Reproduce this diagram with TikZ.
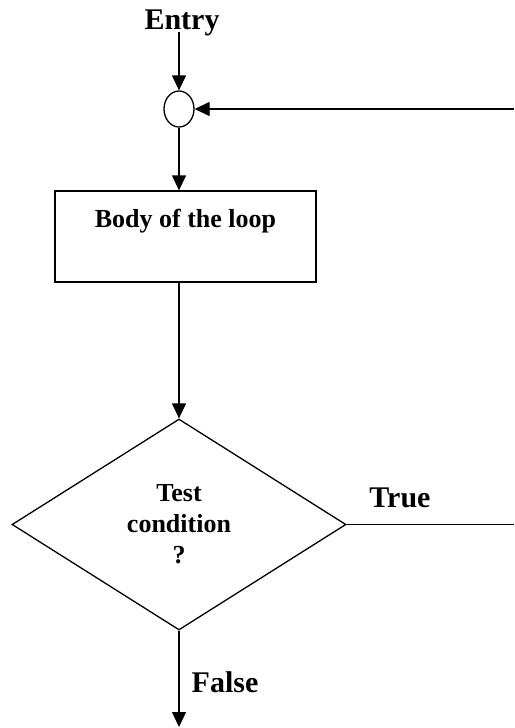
\documentclass[tikz,border=0pt]{standalone}
\usepackage{fontspec}
\setmainfont{Liberation Serif}
\usetikzlibrary{shapes.geometric,arrows.meta}
\tikzset{
    base/.style={draw, line width=1.3pt, inner sep=0pt},
    joint/.style={base, ellipse, minimum width=30pt, minimum height=36pt},
    block/.style={base, rectangle, minimum width=261pt, minimum height=91pt},
    test/.style={base, diamond, aspect=1.58, minimum width=334pt, minimum height=211pt,
        align=center, font=\bfseries\fontsize{26}{31}\selectfont},
    big/.style={font=\bfseries\fontsize{30}{36}\selectfont, inner sep=0pt, anchor=base},
    small/.style={font=\bfseries\fontsize{26}{31}\selectfont, inner sep=0pt, anchor=base},
    flow/.style={line width=1.3pt, -{Triangle[length=15pt,width=14pt]}},
    wire/.style={line width=1.3pt},
}
\begin{document}
\begin{tikzpicture}[x=1pt,y=-1pt]
    \useasboundingbox (0,0) rectangle (514,728);
    \node[big] (entry) at (182,29) {Entry};
    \node[joint] (joint) at (179,109) {};
    \node[block] (body) at (185.5,236.5) {};
    \node[small] (bodytext) at (185.5,227) {Body of the loop};
    \node[test] (cond) at (179,524.5) {Test\\condition\\?};
    \node[big] (true) at (400,507) {True};
    \node[big] (false) at (225,692) {False};
    \coordinate (in) at (179,32);
    \coordinate (back) at (514,109);
    \coordinate (tend) at (514,524.5);
    \coordinate (out) at (179,727);
    \draw[flow] (in) -- (joint.north);
    \draw[flow] (back) -- (joint.east);
    \draw[flow] (joint.south) -- (joint |- body.north);
    \draw[flow] (joint |- body.south) -- (cond.north);
    \draw[wire] (cond.east) -- (tend);
    \draw[flow] (cond.south) -- (out);
\end{tikzpicture}
\end{document}
